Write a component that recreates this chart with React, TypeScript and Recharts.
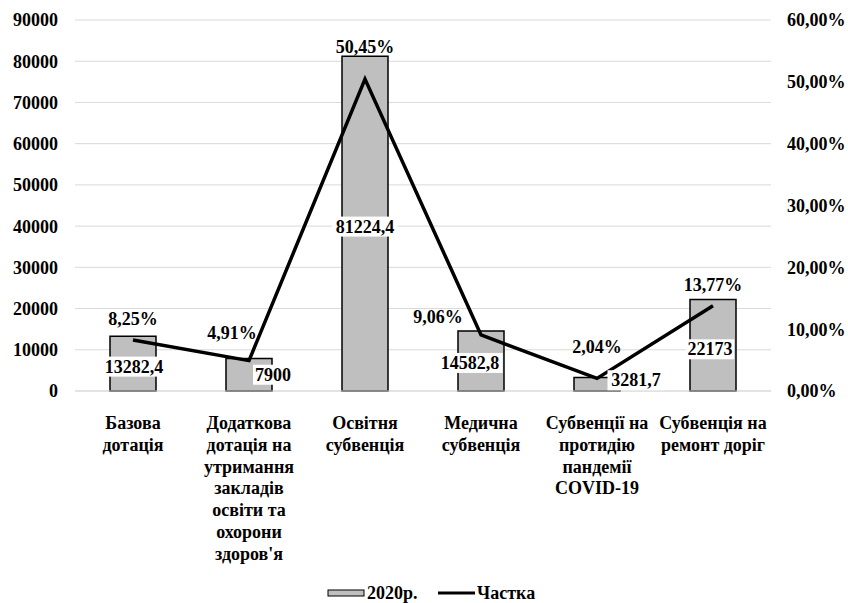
import {
  ComposedChart,
  Bar,
  Line,
  XAxis,
  YAxis,
  CartesianGrid,
  Legend,
  LabelList,
} from "recharts"

const categories = [
  "Базова дотація",
  "Додаткова дотація на утримання закладів освіти та охорони здоров'я",
  "Освітня субвенція",
  "Медична субвенція",
  "Субвенції на протидію пандемії COVID-19",
  "Субвенція на ремонт доріг",
]

// category captions split into lines like in the original
const categoryLines = [
  ["Базова", "дотація"],
  ["Додаткова", "дотація на", "утримання", "закладів", "освіти та", "охорони", "здоров'я"],
  ["Освітня", "субвенція"],
  ["Медична", "субвенція"],
  ["Субвенції на", "протидію", "пандемії", "COVID-19"],
  ["Субвенція на", "ремонт доріг"],
]

const amounts2020 = [13282.4, 7900, 81224.4, 14582.8, 3281.7, 22173]
const shares = [8.25, 4.91, 50.45, 9.06, 2.04, 13.77]

const leftTicks = [0, 10000, 20000, 30000, 40000, 50000, 60000, 70000, 80000, 90000]
const rightTicks = [0, 10, 20, 30, 40, 50, 60]

const data = categories.map((name, i) => ({
  name,
  amount: amounts2020[i],
  share: shares[i],
}))

// manual label nudges (the labels were dragged around in the source)
const shareLabelShift = [
  [0, -21],
  [-17, -28],
  [0, -32],
  [-43, -18],
  [0, -31],
  [0, -21],
]
const amountLabelShift = [
  [1, 3],
  [24, 0],
  [0, 3],
  [-11, 2],
  [39, -4],
  [-3, 4],
]

const FONT = "Liberation Serif"
const BAR_FILL = "#bfbfbf"
const textStyle = { fontFamily: FONT, fontWeight: 700, fontSize: 18 }

const fmtComma = (v: number) => String(v).replace(".", ",")
const fmtPct = (v: number) => v.toFixed(2).replace(".", ",") + "%"

const CategoryTick = (props: any) => {
  const { x, y, index } = props
  const lines = categoryLines[index] || []
  return (
    <text x={x} y={y} textAnchor="middle" style={textStyle} fill="#000">
      {lines.map((l, i) => (
        <tspan key={i} x={x} dy={i === 0 ? 36 : 21.8}>
          {l}
        </tspan>
      ))}
    </text>
  )
}

const AmountLabel = (props: any) => {
  const { x, y, width, height, value, index } = props
  const [dx, dy] = amountLabelShift[index] || [0, 0]
  const text = fmtComma(value)
  const w = text.length * 8.5 + 6
  const cx = x + width / 2 + dx
  const cy = y + height / 2 + dy
  return (
    <g>
      <rect x={cx - w / 2} y={cy - 10} width={w} height={20} fill="#fff" />
      <text x={cx} y={cy + 6} textAnchor="middle" style={textStyle} fill="#000">
        {text}
      </text>
    </g>
  )
}

const ShareLabel = (props: any) => {
  const { x, y, value, index } = props
  const [dx, dy] = shareLabelShift[index] || [0, 0]
  return (
    <text x={x + dx} y={y + dy + 6} textAnchor="middle" style={textStyle} fill="#000">
      {fmtPct(value)}
    </text>
  )
}

const LegendContent = () => (
  <svg width={848} height={20} style={{ display: "block" }}>
    <rect x={328} y={7} width={36} height={6} fill={BAR_FILL} stroke="#000" strokeWidth={1} />
    <text x={367} y={16} style={textStyle} fill="#000">
      2020р.
    </text>
    <line x1={438} y1={10} x2={475} y2={10} stroke="#000" strokeWidth={3} />
    <text x={477} y={16} style={textStyle} fill="#000">
      Частка
    </text>
  </svg>
)

export default function App() {
  return (
    <div style={{ width: 848, height: 603, background: "#fff" }}>
      <style>{"body{margin:0}"}</style>
      <ComposedChart
        width={848}
        height={603}
        data={data}
        margin={{ top: 20, right: 0, bottom: 0, left: 0 }}
      >
        <CartesianGrid vertical={false} stroke="#d9d9d9" yAxisId="left" />
        <XAxis
          dataKey="name"
          axisLine={{ stroke: "#d9d9d9" }}
          tickLine={false}
          tickSize={0}
          interval={0}
          height={192}
          tick={<CategoryTick />}
        />
        <YAxis
          yAxisId="left"
          orientation="left"
          width={75}
          domain={[0, 90000]}
          ticks={leftTicks}
          axisLine={false}
          tickLine={false}
          tickSize={0}
          tickMargin={17}
          tick={{ style: textStyle, fill: "#000" }}
        />
        <YAxis
          yAxisId="right"
          orientation="right"
          width={77}
          domain={[0, 60]}
          ticks={rightTicks}
          axisLine={false}
          tickLine={false}
          tickSize={0}
          tickMargin={16}
          tickFormatter={(v: number) => fmtPct(v)}
          tick={{ style: textStyle, fill: "#000", textAnchor: "start" }}
        />
        <Bar
          yAxisId="left"
          dataKey="amount"
          name="2020р."
          fill={BAR_FILL}
          stroke="#000"
          strokeWidth={1.5}
          barSize={46}
          isAnimationActive={false}
        >
          <LabelList dataKey="amount" content={<AmountLabel />} />
        </Bar>
        <Line
          yAxisId="right"
          dataKey="share"
          name="Частка"
          type="linear"
          stroke="#000"
          strokeWidth={3.5}
          dot={false}
          isAnimationActive={false}
        >
          <LabelList dataKey="share" content={<ShareLabel />} />
        </Line>
        <Legend
          verticalAlign="bottom"
          content={<LegendContent />}
          wrapperStyle={{ height: 20 }}
        />
      </ComposedChart>
    </div>
  )
}
